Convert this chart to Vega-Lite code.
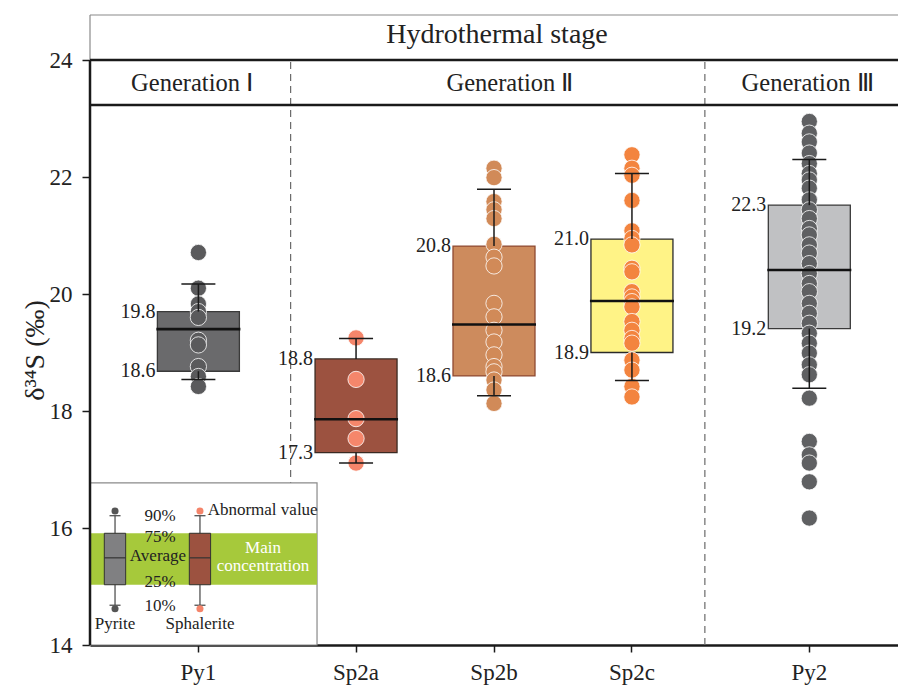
{
  "$schema": "https://vega.github.io/schema/vega-lite/v6.json",
  "width": 808,
  "height": 630,
  "autosize": {"type": "none"},
  "padding": {"left": 90, "top": 15, "right": 0, "bottom": 41},
  "background": "white",
  "config": {
    "view": {"stroke": null},
    "font": "Liberation Serif",
    "axis": {"labelFont": "Liberation Serif", "titleFont": "Liberation Serif"},
    "text": {"font": "Liberation Serif", "color": "#222222"}
  },
  "datasets": {
    "points": [
      {"sample": "Py1", "value": 20.71}, {"sample": "Py1", "value": 20.10}, {"sample": "Py1", "value": 19.83}, {"sample": "Py1", "value": 19.70}, {"sample": "Py1", "value": 19.60},
      {"sample": "Py1", "value": 19.21}, {"sample": "Py1", "value": 19.13}, {"sample": "Py1", "value": 18.76}, {"sample": "Py1", "value": 18.59}, {"sample": "Py1", "value": 18.42},
      {"sample": "Sp2a", "value": 19.25}, {"sample": "Sp2a", "value": 18.54}, {"sample": "Sp2a", "value": 17.87}, {"sample": "Sp2a", "value": 17.53}, {"sample": "Sp2a", "value": 17.11},
      {"sample": "Sp2b", "value": 22.15}, {"sample": "Sp2b", "value": 21.99}, {"sample": "Sp2b", "value": 21.58}, {"sample": "Sp2b", "value": 21.44}, {"sample": "Sp2b", "value": 21.29},
      {"sample": "Sp2b", "value": 20.85}, {"sample": "Sp2b", "value": 20.63}, {"sample": "Sp2b", "value": 20.48}, {"sample": "Sp2b", "value": 19.84}, {"sample": "Sp2b", "value": 19.61},
      {"sample": "Sp2b", "value": 19.38}, {"sample": "Sp2b", "value": 19.18}, {"sample": "Sp2b", "value": 18.96}, {"sample": "Sp2b", "value": 18.76}, {"sample": "Sp2b", "value": 18.67},
      {"sample": "Sp2b", "value": 18.53}, {"sample": "Sp2b", "value": 18.36}, {"sample": "Sp2b", "value": 18.13},
      {"sample": "Sp2c", "value": 22.38}, {"sample": "Sp2c", "value": 22.15}, {"sample": "Sp2c", "value": 22.03}, {"sample": "Sp2c", "value": 21.60}, {"sample": "Sp2c", "value": 21.08},
      {"sample": "Sp2c", "value": 20.95}, {"sample": "Sp2c", "value": 20.84}, {"sample": "Sp2c", "value": 20.44}, {"sample": "Sp2c", "value": 20.38}, {"sample": "Sp2c", "value": 20.04},
      {"sample": "Sp2c", "value": 19.95}, {"sample": "Sp2c", "value": 19.87}, {"sample": "Sp2c", "value": 19.78}, {"sample": "Sp2c", "value": 19.53}, {"sample": "Sp2c", "value": 19.38},
      {"sample": "Sp2c", "value": 19.24}, {"sample": "Sp2c", "value": 19.16}, {"sample": "Sp2c", "value": 18.87}, {"sample": "Sp2c", "value": 18.70}, {"sample": "Sp2c", "value": 18.42},
      {"sample": "Sp2c", "value": 18.24},
      {"sample": "Py2", "value": 22.95}, {"sample": "Py2", "value": 22.75}, {"sample": "Py2", "value": 22.60}, {"sample": "Py2", "value": 22.41}, {"sample": "Py2", "value": 22.23},
      {"sample": "Py2", "value": 22.06}, {"sample": "Py2", "value": 21.95}, {"sample": "Py2", "value": 21.81}, {"sample": "Py2", "value": 21.61}, {"sample": "Py2", "value": 21.44},
      {"sample": "Py2", "value": 21.29}, {"sample": "Py2", "value": 21.12}, {"sample": "Py2", "value": 21.01}, {"sample": "Py2", "value": 20.84}, {"sample": "Py2", "value": 20.70},
      {"sample": "Py2", "value": 20.52}, {"sample": "Py2", "value": 20.35}, {"sample": "Py2", "value": 20.18}, {"sample": "Py2", "value": 20.04}, {"sample": "Py2", "value": 19.84},
      {"sample": "Py2", "value": 19.67}, {"sample": "Py2", "value": 19.50}, {"sample": "Py2", "value": 19.33}, {"sample": "Py2", "value": 19.16}, {"sample": "Py2", "value": 18.99},
      {"sample": "Py2", "value": 18.79}, {"sample": "Py2", "value": 18.62}, {"sample": "Py2", "value": 18.22}, {"sample": "Py2", "value": 17.48}, {"sample": "Py2", "value": 17.25},
      {"sample": "Py2", "value": 17.11}, {"sample": "Py2", "value": 16.79}, {"sample": "Py2", "value": 16.17}
    ],
    "boxes": [
      {"sample": "Py1", "p10": 18.54, "p25": 18.68, "mean": 19.40, "p75": 19.70, "p90": 20.17, "lo": "18.6", "hi": "19.8"},
      {"sample": "Sp2a", "p10": 17.11, "p25": 17.29, "mean": 17.86, "p75": 18.89, "p90": 19.24, "lo": "17.3", "hi": "18.8"},
      {"sample": "Sp2b", "p10": 18.26, "p25": 18.60, "mean": 19.48, "p75": 20.82, "p90": 21.79, "lo": "18.6", "hi": "20.8"},
      {"sample": "Sp2c", "p10": 18.52, "p25": 19.00, "mean": 19.88, "p75": 20.94, "p90": 22.06, "lo": "18.9", "hi": "21.0"},
      {"sample": "Py2", "p10": 18.39, "p25": 19.41, "mean": 20.41, "p75": 21.52, "p90": 22.30, "lo": "19.2", "hi": "22.3"}
    ]
  },
  "data": {"values": [{}]},
  "resolve": {"scale": {"fill": "independent", "stroke": "independent"}},
  "layer": [
    {
      "data": {"name": "boxes"},
      "mark": {"type": "bar", "width": 82, "strokeWidth": 1.3, "opacity": 0},
      "encoding": {
        "x": {
          "field": "sample", "type": "nominal",
          "scale": {
            "type": "band", "paddingInner": 0, "paddingOuter": 0,
            "domain": ["_0","_1","_2","_3","_4","Py1","_6","_7","_8","_9","_10","_11","_12","Sp2a","_14","_15","_16","_17","_18","_19","Sp2b","_21","_22","_23","_24","_25","_26","Sp2c","_28","_29","_30","_31","_32","_33","_34","_35","Py2","_37","_38","_39","_40"]
          },
          "axis": {
            "orient": "bottom",
            "values": ["Py1", "Sp2a", "Sp2b", "Sp2c", "Py2"],
            "title": null, "labelAngle": 0, "grid": false,
            "domainColor": "#1a1a1a", "domainWidth": 2.5,
            "tickColor": "#1a1a1a", "tickWidth": 1.5, "tickSize": 7,
            "labelFont": "Liberation Serif", "labelFontSize": 23, "labelColor": "#222222", "labelPadding": 9
          }
        },
        "y": {
          "field": "p25", "type": "quantitative",
          "scale": {"domain": [14, 24.77], "nice": false, "zero": false},
          "axis": {
            "orient": "left",
            "values": [14, 16, 18, 20, 22, 24], "format": "d", "domain": false, "grid": false,
            "tickColor": "#1a1a1a", "tickWidth": 1.5, "tickSize": 8,
            "labelFont": "Liberation Serif", "labelFontSize": 23, "labelColor": "#222222", "labelPadding": 10,
            "title": "δ³⁴S (‰)", "titleFont": "Liberation Serif", "titleFontSize": 28, "titleFontWeight": "normal", "titleColor": "#222222",
            "titleX": -55, "titleY": 335, "titleAngle": -90, "titleAlign": "center", "titleBaseline": "middle"
          }
        },
        "y2": {"field": "p75"}
      }
    },

    {"mark": {"type": "rule", "color": "#8a8a8a", "strokeWidth": 1.2},
     "encoding": {"x": {"datum": "_0", "type": "nominal", "bandPosition": 0}, "x2": {"datum": "_40", "bandPosition": 1}, "y": {"datum": 24.77, "type": "quantitative"}}},
    {"mark": {"type": "rule", "color": "#8a8a8a", "strokeWidth": 1.2},
     "encoding": {"x": {"datum": "_0", "type": "nominal", "bandPosition": 0}, "y": {"datum": 24, "type": "quantitative"}, "y2": {"datum": 24.77}}},
    {"mark": {"type": "rule", "color": "#6a6a6a", "strokeWidth": 1.2, "strokeDash": [7, 5]},
     "encoding": {"x": {"datum": "_10", "type": "nominal", "bandPosition": 0.18}, "y": {"datum": 14, "type": "quantitative"}, "y2": {"datum": 24}}},
    {"mark": {"type": "rule", "color": "#6a6a6a", "strokeWidth": 1.2, "strokeDash": [7, 5]},
     "encoding": {"x": {"datum": "_31", "type": "nominal", "bandPosition": 0.2}, "y": {"datum": 14, "type": "quantitative"}, "y2": {"datum": 24}}},
    {"mark": {"type": "rule", "color": "#1a1a1a", "strokeWidth": 2.5},
     "encoding": {"x": {"datum": "_0", "type": "nominal", "bandPosition": 0}, "x2": {"datum": "_40", "bandPosition": 1}, "y": {"datum": 24, "type": "quantitative"}}},
    {"mark": {"type": "rule", "color": "#1a1a1a", "strokeWidth": 2.5},
     "encoding": {"x": {"datum": "_0", "type": "nominal", "bandPosition": 0}, "x2": {"datum": "_40", "bandPosition": 1}, "y": {"datum": 23.231, "type": "quantitative"}}},
    {"mark": {"type": "rect", "fill": "white", "stroke": "#8a8a8a", "strokeWidth": 1.2},
     "encoding": {"x": {"datum": "_0", "type": "nominal", "bandPosition": 0}, "x2": {"datum": "_11", "bandPosition": 0.52}, "y": {"datum": 14, "type": "quantitative"}, "y2": {"datum": 16.77}}},
    {"mark": {"type": "rect", "fill": "#a6c93b"},
     "encoding": {"x": {"datum": "_0", "type": "nominal", "bandPosition": 0}, "x2": {"datum": "_11", "bandPosition": 0.52}, "y": {"datum": 15.03, "type": "quantitative"}, "y2": {"datum": 15.91}}},
    {"mark": {"type": "rule", "color": "#1a1a1a", "strokeWidth": 2.5},
     "encoding": {"x": {"datum": "_0", "type": "nominal", "bandPosition": 0}, "y": {"datum": 14, "type": "quantitative"}, "y2": {"datum": 24}}},

    {"mark": {"type": "rule", "color": "#444444", "strokeWidth": 1.2},
     "encoding": {"x": {"datum": "_1", "type": "nominal", "bandPosition": 0.27}, "y": {"datum": 14.68, "type": "quantitative"}, "y2": {"datum": 16.21}}},
    {"mark": {"type": "rule", "color": "#444444", "strokeWidth": 1.2},
     "encoding": {"x": {"datum": "_0", "type": "nominal", "bandPosition": 0.99}, "x2": {"datum": "_1", "bandPosition": 0.55}, "y": {"datum": 16.21, "type": "quantitative"}}},
    {"mark": {"type": "rule", "color": "#444444", "strokeWidth": 1.2},
     "encoding": {"x": {"datum": "_0", "type": "nominal", "bandPosition": 0.99}, "x2": {"datum": "_1", "bandPosition": 0.55}, "y": {"datum": 14.68, "type": "quantitative"}}},
    {"mark": {"type": "rect", "fill": "#808082", "stroke": "#333333", "strokeWidth": 1},
     "encoding": {"x": {"datum": "_0", "type": "nominal", "bandPosition": 0.726}, "x2": {"datum": "_1", "bandPosition": 0.81}, "y": {"datum": 15.03, "type": "quantitative"}, "y2": {"datum": 15.91}}},
    {"mark": {"type": "rule", "color": "#333333", "strokeWidth": 1.2},
     "encoding": {"x": {"datum": "_0", "type": "nominal", "bandPosition": 0.726}, "x2": {"datum": "_1", "bandPosition": 0.81}, "y": {"datum": 15.49, "type": "quantitative"}}},
    {"mark": {"type": "circle", "fill": "#555555", "size": 50, "opacity": 1},
     "encoding": {"x": {"datum": "_1", "type": "nominal", "bandPosition": 0.27}, "y": {"datum": 16.29, "type": "quantitative"}}},
    {"mark": {"type": "circle", "fill": "#555555", "size": 50, "opacity": 1},
     "encoding": {"x": {"datum": "_1", "type": "nominal", "bandPosition": 0.27}, "y": {"datum": 14.62, "type": "quantitative"}}},

    {"mark": {"type": "rule", "color": "#444444", "strokeWidth": 1.2},
     "encoding": {"x": {"datum": "Py1", "type": "nominal", "bandPosition": 0.58}, "y": {"datum": 14.68, "type": "quantitative"}, "y2": {"datum": 16.21}}},
    {"mark": {"type": "rule", "color": "#444444", "strokeWidth": 1.2},
     "encoding": {"x": {"datum": "Py1", "type": "nominal", "bandPosition": 0.30}, "x2": {"datum": "Py1", "bandPosition": 0.86}, "y": {"datum": 16.21, "type": "quantitative"}}},
    {"mark": {"type": "rule", "color": "#444444", "strokeWidth": 1.2},
     "encoding": {"x": {"datum": "Py1", "type": "nominal", "bandPosition": 0.30}, "x2": {"datum": "Py1", "bandPosition": 0.86}, "y": {"datum": 14.68, "type": "quantitative"}}},
    {"mark": {"type": "rect", "fill": "#9c5240", "stroke": "#333333", "strokeWidth": 1},
     "encoding": {"x": {"datum": "Py1", "type": "nominal", "bandPosition": 0.04}, "x2": {"datum": "_6", "bandPosition": 0.12}, "y": {"datum": 15.03, "type": "quantitative"}, "y2": {"datum": 15.91}}},
    {"mark": {"type": "rule", "color": "#333333", "strokeWidth": 1.2},
     "encoding": {"x": {"datum": "Py1", "type": "nominal", "bandPosition": 0.04}, "x2": {"datum": "_6", "bandPosition": 0.12}, "y": {"datum": 15.49, "type": "quantitative"}}},
    {"mark": {"type": "circle", "fill": "#f4846a", "size": 50, "opacity": 1},
     "encoding": {"x": {"datum": "Py1", "type": "nominal", "bandPosition": 0.58}, "y": {"datum": 16.29, "type": "quantitative"}}},
    {"mark": {"type": "circle", "fill": "#f4846a", "size": 50, "opacity": 1},
     "encoding": {"x": {"datum": "Py1", "type": "nominal", "bandPosition": 0.58}, "y": {"datum": 14.62, "type": "quantitative"}}},

    {"mark": {"type": "text", "text": "Hydrothermal stage", "fontSize": 28, "align": "center", "baseline": "alphabetic"},
     "encoding": {"x": {"datum": "Sp2b", "type": "nominal", "bandPosition": 0.65}, "y": {"datum": 24.285, "type": "quantitative"}}},
    {"mark": {"type": "text", "text": "Generation Ⅰ", "fontSize": 24.5, "align": "center", "baseline": "alphabetic"},
     "encoding": {"x": {"datum": "Py1", "type": "nominal", "bandPosition": 0.18}, "y": {"datum": 23.475, "type": "quantitative"}}},
    {"mark": {"type": "text", "text": "Generation Ⅱ", "fontSize": 24.5, "align": "center", "baseline": "alphabetic"},
     "encoding": {"x": {"datum": "_21", "type": "nominal", "bandPosition": 0.31}, "y": {"datum": 23.475, "type": "quantitative"}}},
    {"mark": {"type": "text", "text": "Generation Ⅲ", "fontSize": 24.5, "align": "center", "baseline": "alphabetic"},
     "encoding": {"x": {"datum": "Py2", "type": "nominal", "bandPosition": 0.41}, "y": {"datum": 23.475, "type": "quantitative"}}},

    {"mark": {"type": "text", "text": "90%", "fontSize": 17, "align": "center", "baseline": "middle"},
     "encoding": {"x": {"datum": "_3", "type": "nominal", "bandPosition": 0.55}, "y": {"datum": 16.2, "type": "quantitative"}}},
    {"mark": {"type": "text", "text": "75%", "fontSize": 17, "align": "center", "baseline": "middle"},
     "encoding": {"x": {"datum": "_3", "type": "nominal", "bandPosition": 0.55}, "y": {"datum": 15.85, "type": "quantitative"}}},
    {"mark": {"type": "text", "text": "Average", "fontSize": 17, "align": "center", "baseline": "middle"},
     "encoding": {"x": {"datum": "_3", "type": "nominal", "bandPosition": 0.45}, "y": {"datum": 15.52, "type": "quantitative"}}},
    {"mark": {"type": "text", "text": "25%", "fontSize": 17, "align": "center", "baseline": "middle"},
     "encoding": {"x": {"datum": "_3", "type": "nominal", "bandPosition": 0.55}, "y": {"datum": 15.07, "type": "quantitative"}}},
    {"mark": {"type": "text", "text": "10%", "fontSize": 17, "align": "center", "baseline": "middle"},
     "encoding": {"x": {"datum": "_3", "type": "nominal", "bandPosition": 0.55}, "y": {"datum": 14.67, "type": "quantitative"}}},
    {"mark": {"type": "text", "text": "Pyrite", "fontSize": 17, "align": "center", "baseline": "middle"},
     "encoding": {"x": {"datum": "_1", "type": "nominal", "bandPosition": 0.27}, "y": {"datum": 14.36, "type": "quantitative"}}},
    {"mark": {"type": "text", "text": "Sphalerite", "fontSize": 17, "align": "center", "baseline": "middle"},
     "encoding": {"x": {"datum": "Py1", "type": "nominal", "bandPosition": 0.58}, "y": {"datum": 14.36, "type": "quantitative"}}},
    {"mark": {"type": "text", "text": "Abnormal value", "fontSize": 17, "align": "left", "baseline": "middle"},
     "encoding": {"x": {"datum": "Py1", "type": "nominal", "bandPosition": 0.97}, "y": {"datum": 16.31, "type": "quantitative"}}},
    {"mark": {"type": "text", "text": "Main", "fontSize": 17, "align": "center", "baseline": "middle", "color": "white"},
     "encoding": {"x": {"datum": "_8", "type": "nominal", "bandPosition": 0.78}, "y": {"datum": 15.66, "type": "quantitative"}}},
    {"mark": {"type": "text", "text": "concentration", "fontSize": 17, "align": "center", "baseline": "middle", "color": "white"},
     "encoding": {"x": {"datum": "_8", "type": "nominal", "bandPosition": 0.78}, "y": {"datum": 15.35, "type": "quantitative"}}},

    {
      "data": {"name": "boxes"},
      "mark": {"type": "bar", "width": 82, "strokeWidth": 1.3},
      "encoding": {
        "x": {"field": "sample", "type": "nominal"},
        "y": {"field": "p25", "type": "quantitative"},
        "y2": {"field": "p75"},
        "fill": {"field": "sample", "type": "nominal", "legend": null,
          "scale": {"domain": ["Py1", "Sp2a", "Sp2b", "Sp2c", "Py2"], "range": ["#6a6a6c", "#9c5240", "#cd8b5d", "#fff386", "#c0c1c3"]}},
        "stroke": {"field": "sample", "type": "nominal", "legend": null,
          "scale": {"domain": ["Py1", "Sp2a", "Sp2b", "Sp2c", "Py2"], "range": ["#3a3a3a", "#3a2a22", "#8e4a32", "#2a2a2a", "#3a3a3a"]}}
      }
    },
    {
      "data": {"name": "points"},
      "mark": {"type": "circle", "size": 265, "opacity": 1, "stroke": "white", "strokeWidth": 0.8},
      "encoding": {
        "x": {"field": "sample", "type": "nominal"},
        "y": {"field": "value", "type": "quantitative"},
        "fill": {"field": "sample", "type": "nominal", "legend": null,
          "scale": {"domain": ["Py1", "Sp2a", "Sp2b", "Sp2c", "Py2"], "range": ["#5a5a5c", "#f5866b", "#d18a58", "#f3843f", "#5f6062"]}}
      }
    },
    {
      "data": {"name": "boxes"},
      "mark": {"type": "rule", "color": "#1a1a1a", "strokeWidth": 1.5},
      "encoding": {"x": {"field": "sample", "type": "nominal"}, "y": {"field": "p10", "type": "quantitative"}, "y2": {"field": "p25"}}
    },
    {
      "data": {"name": "boxes"},
      "mark": {"type": "rule", "color": "#1a1a1a", "strokeWidth": 1.5},
      "encoding": {"x": {"field": "sample", "type": "nominal"}, "y": {"field": "p75", "type": "quantitative"}, "y2": {"field": "p90"}}
    },
    {
      "data": {"name": "boxes"},
      "mark": {"type": "tick", "orient": "horizontal", "size": 34, "thickness": 1.5, "color": "#1a1a1a", "opacity": 1},
      "encoding": {"x": {"field": "sample", "type": "nominal"}, "y": {"field": "p10", "type": "quantitative"}}
    },
    {
      "data": {"name": "boxes"},
      "mark": {"type": "tick", "orient": "horizontal", "size": 34, "thickness": 1.5, "color": "#1a1a1a", "opacity": 1},
      "encoding": {"x": {"field": "sample", "type": "nominal"}, "y": {"field": "p90", "type": "quantitative"}}
    },
    {
      "data": {"name": "boxes"},
      "mark": {"type": "tick", "orient": "horizontal", "size": 84, "thickness": 2.6, "color": "#111111", "opacity": 1},
      "encoding": {"x": {"field": "sample", "type": "nominal"}, "y": {"field": "mean", "type": "quantitative"}}
    },
    {
      "data": {"name": "boxes"},
      "mark": {"type": "text", "align": "right", "baseline": "middle", "dx": -43, "fontSize": 20},
      "encoding": {"x": {"field": "sample", "type": "nominal"}, "y": {"field": "p75", "type": "quantitative"}, "text": {"field": "hi"}}
    },
    {
      "data": {"name": "boxes"},
      "mark": {"type": "text", "align": "right", "baseline": "middle", "dx": -43, "fontSize": 20},
      "encoding": {"x": {"field": "sample", "type": "nominal"}, "y": {"field": "p25", "type": "quantitative"}, "text": {"field": "lo"}}
    }
  ]
}
